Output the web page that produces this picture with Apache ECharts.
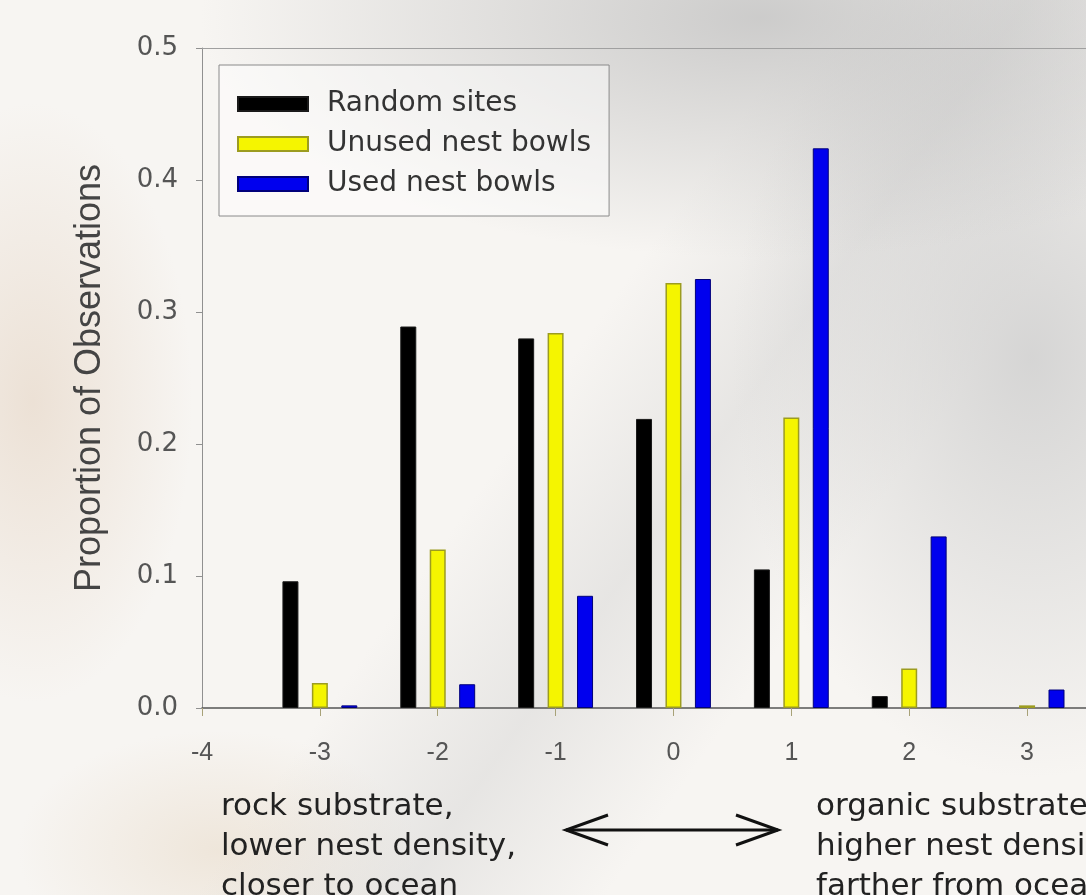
<!DOCTYPE html>
<html>
<head>
<meta charset="utf-8">
<script src="https://cdn.jsdelivr.net/npm/echarts@6/dist/echarts.min.js"></script>
<style>
html,body{margin:0;padding:0;}
#bg{position:absolute;left:0;top:0;width:1086px;height:895px;
background:
 radial-gradient(ellipse 560px 240px at 70% 2%, rgba(190,190,190,0.75), rgba(190,190,190,0) 100%),
 radial-gradient(ellipse 300px 420px at 95% 40%, rgba(205,205,205,0.8), rgba(205,205,205,0) 100%),
 linear-gradient(125deg, rgba(0,0,0,0) 48%, rgba(200,200,200,0.35) 60%, rgba(0,0,0,0) 72%),
 radial-gradient(ellipse 160px 300px at 3% 45%, rgba(225,205,185,0.5), rgba(225,205,185,0) 100%),
 radial-gradient(ellipse 200px 120px at 20% 95%, rgba(230,215,195,0.5), rgba(230,215,195,0) 100%),
 #f7f5f2;}
#chart{position:absolute;left:0;top:0;width:1086px;height:895px;}
</style>
</head>
<body>
<div id="bg"></div>
<div id="chart"></div>
<script>
const categories = [-3, -2, -1, 0, 1, 2, 3];
const randomSites = [0.096, 0.289, 0.280, 0.219, 0.105, 0.009, 0];
const unusedBowls = [0.019, 0.120, 0.284, 0.322, 0.220, 0.030, 0.002];
const usedBowls   = [0.002, 0.018, 0.085, 0.325, 0.424, 0.130, 0.014];
const yTicks = [0.0, 0.1, 0.2, 0.3, 0.4, 0.5];
const xMin = -4, xMax = 3.5;
const leftNote = 'rock substrate,\nlower nest density,\ncloser to ocean';
const rightNote = 'organic substrate,\nhigher nest density,\nfarther from ocean';

const pairs = vals => categories.map((c, i) => [c, vals[i] === 0 ? null : vals[i]]);

const chart = echarts.init(document.getElementById('chart'), null, {renderer: 'canvas'});
const barCommon = {type: 'bar', barWidth: 16, barGap: '84%', xAxisIndex: 0};
chart.setOption({
  backgroundColor: 'transparent',
  animation: false,
  grid: {left: 202, top: 48, right: 0, bottom: 187},
  legend: {
    orient: 'vertical', left: 219, top: 65,
    padding: [25, 18, 18, 18], itemGap: 12,
    itemWidth: 70, itemHeight: 14, icon: 'rect',
    borderColor: '#8a8a8a', borderWidth: 1, backgroundColor: 'rgba(255,255,255,0.45)',
    textStyle: {fontFamily: 'DejaVu Sans', fontSize: 28, color: '#333', lineHeight: 27, padding: [0, 0, 0, 14]},
    data: ['Random sites', 'Unused nest bowls', 'Used nest bowls']
  },
  xAxis: [{
    type: 'value', min: xMin, max: xMax, interval: 1,
    axisLine: {show: true, onZero: false, lineStyle: {color: '#555', width: 1.5}},
    axisTick: {show: true, length: 8, lineStyle: {color: '#a8a278'}},
    splitLine: {show: false},
    axisLabel: {margin: 33, fontFamily: 'Liberation Sans', fontSize: 25, color: '#555', showMaxLabel: false, formatter: v => String(v)}
  }, {
    type: 'value', position: 'top', min: xMin, max: xMax,
    axisLine: {show: true, onZero: false, lineStyle: {color: '#a0a0a0', width: 1}},
    axisTick: {show: false}, axisLabel: {show: false}, splitLine: {show: false}
  }],
  yAxis: {
    type: 'value', min: yTicks[0], max: yTicks[yTicks.length - 1], interval: 0.1,
    name: 'Proportion of Observations', nameLocation: 'middle', nameGap: 94,
    nameTextStyle: {fontFamily: 'Liberation Sans', fontSize: 36, color: '#444'},
    axisLine: {show: true, onZero: false, lineStyle: {color: '#909090', width: 1}},
    axisTick: {show: true, length: 6, lineStyle: {color: '#909090'}},
    splitLine: {show: false},
    axisLabel: {margin: 24, fontFamily: 'DejaVu Sans', fontSize: 26, color: '#555', formatter: v => v.toFixed(1)}
  },
  series: [
    Object.assign({name: 'Random sites', data: pairs(randomSites),
      itemStyle: {color: '#000000', borderColor: '#1a1a1a', borderWidth: 1}}, barCommon),
    Object.assign({name: 'Unused nest bowls', data: pairs(unusedBowls),
      itemStyle: {color: '#f5f500', borderColor: '#9c9c20', borderWidth: 1.5}}, barCommon),
    Object.assign({name: 'Used nest bowls', data: pairs(usedBowls),
      itemStyle: {color: '#0000ee', borderColor: '#00007a', borderWidth: 1}}, barCommon)
  ],
  graphic: [
    {type: 'text', left: 221, top: 787, style: {text: leftNote, font: '31px "DejaVu Sans"', fill: '#222', lineHeight: 40}},
    {type: 'text', left: 816, top: 787, style: {text: rightNote, font: '31px "DejaVu Sans"', fill: '#222', lineHeight: 40}},
    {type: 'polyline', shape: {points: [[566, 830], [778, 830]]}, style: {stroke: '#111', lineWidth: 3}},
    {type: 'polyline', shape: {points: [[608, 815], [566, 830], [608, 845]]}, style: {stroke: '#111', lineWidth: 3, fill: null}},
    {type: 'polyline', shape: {points: [[736, 815], [778, 830], [736, 845]]}, style: {stroke: '#111', lineWidth: 3, fill: null}}
  ]
});
</script>
</body>
</html>
